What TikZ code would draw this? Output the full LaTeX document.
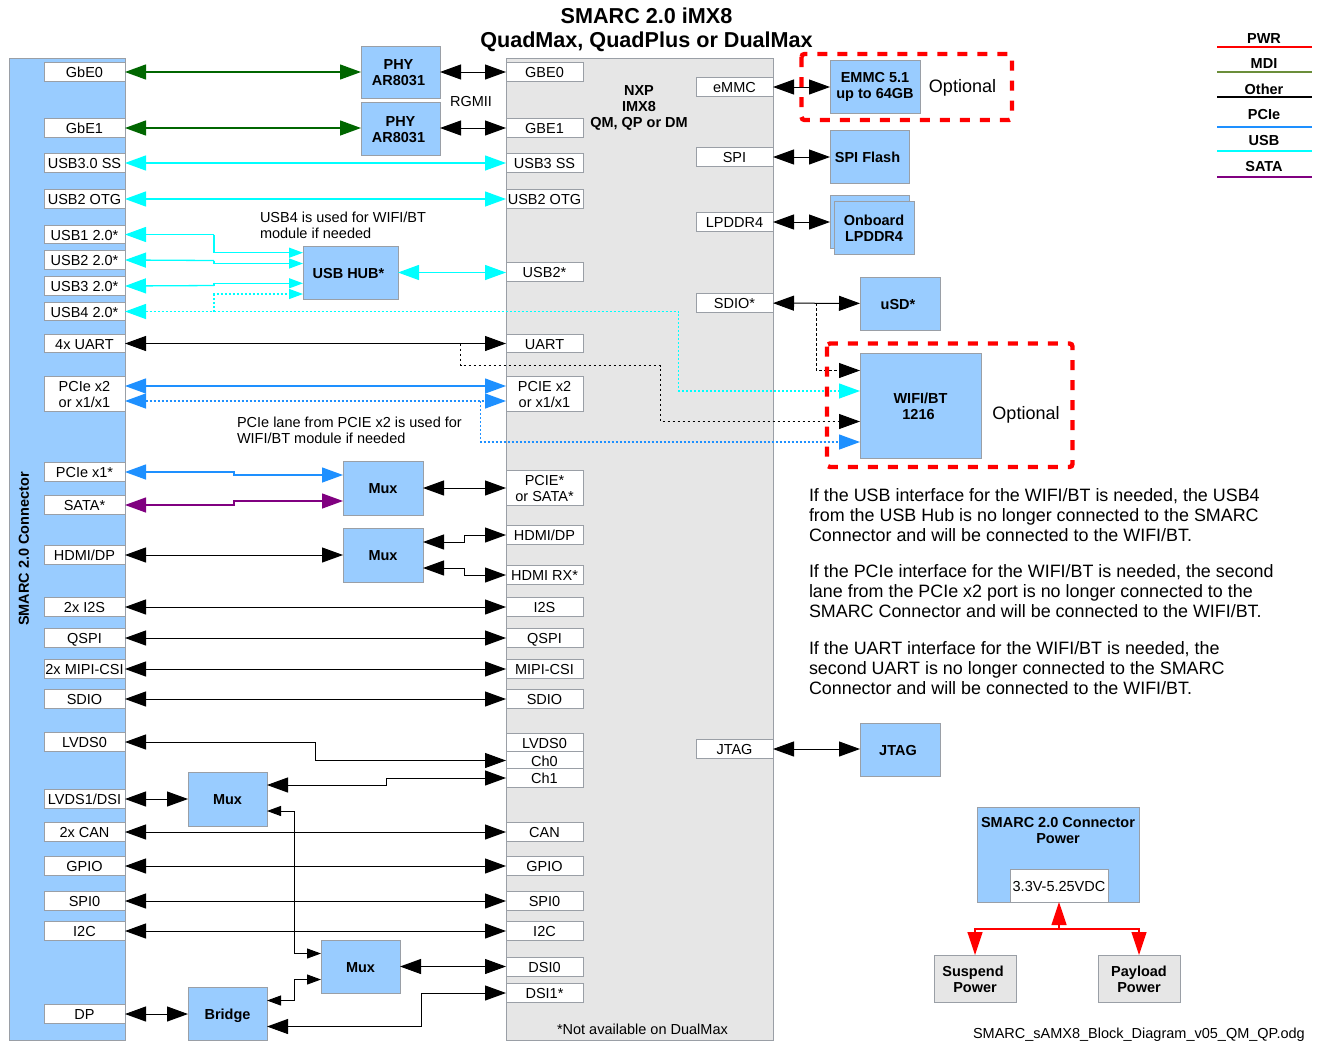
\documentclass[tikz,border=0pt]{standalone}
\usepackage{fontspec}
\setmainfont{Liberation Sans}
\usetikzlibrary{arrows.meta,calc}
\definecolor{blk}{HTML}{99CCFF}
\definecolor{chip}{HTML}{E6E6E6}
\definecolor{edge}{HTML}{9A9FA6}
\definecolor{mdi}{HTML}{006600}
\definecolor{mdil}{HTML}{6B8E3A}
\definecolor{pcie}{HTML}{1E90FF}
\definecolor{usbc}{HTML}{00FFFF}
\definecolor{sata}{HTML}{800080}
\newcommand\sr{\rule[-3.2pt]{0pt}{18.2pt}}
\newcommand\mr{\rule{0pt}{11.5pt}}
\newcommand\rs{\hspace*{4pt}}
\newcommand\bx[7][]{\pgfmathsetmacro\cxx{(#3+#5)/2}\pgfmathsetmacro\cyy{(#4+#6)/2}\pgfmathsetmacro\ww{#5-#3}\pgfmathsetmacro\hh{#6-#4}\node[#1,minimum width=\ww pt,minimum height=\hh pt] (#2) at (\cxx,\cyy) {#7};}
\newcommand\lft[3]{\node[lab,minimum width=81pt,minimum height=18pt] (#1) at (84.5,#2) {\sr #3};}
\newcommand\rgt[3]{\node[lab,minimum width=77pt,minimum height=18pt] (#1) at (544.5,#2) {\sr #3};}
\newcommand\ext[3]{\node[lab,minimum width=77pt,minimum height=18pt] (#1) at (734.5,#2) {\sr #3};}
\tikzset{
  base/.style={draw=edge,line width=1pt,inner sep=0pt,outer sep=0pt,align=center,font=\fontsize{14.5}{16}\selectfont},
  lab/.style={base,fill=white},
  block/.style={base,fill=blk,font=\fontsize{14.5}{16}\selectfont\bfseries},
  gblock/.style={base,fill=chip,font=\fontsize{14.5}{16}\selectfont\bfseries},
  txt/.style={inner sep=0pt,outer sep=0pt,font=\fontsize{14.5}{16}\selectfont},
  btxt/.style={inner sep=0pt,outer sep=0pt,align=center,font=\fontsize{14.5}{16}\selectfont\bfseries},
  para/.style={inner sep=0pt,outer sep=0pt,anchor=north west,align=left,font=\fontsize{17.9}{20}\selectfont},
  opt/.style={inner sep=0pt,outer sep=0pt,font=\fontsize{18}{20}\selectfont},
  wire/.style={line width=1pt,>={Triangle[length=21pt,width=15pt]}},
  cwire/.style={line width=1.3pt,>={Triangle[length=21pt,width=15pt]}},
  sw/.style={line width=1pt,>={Triangle[length=14pt,width=10pt]}},
  csw/.style={line width=1.3pt,>={Triangle[length=14pt,width=10pt]}},
  dash1/.style={dash pattern=on 2.5pt off 2.5pt},
  dot1/.style={dash pattern=on 2pt off 2pt},
  pwire/.style={line width=1.3pt,red,>={Triangle[length=23pt,width=15pt]}},
  redbox/.style={draw=red,line width=4.4pt,dash pattern=on 10pt off 10pt,rounded corners=3pt},
  leg/.style={line width=2.6pt}
}
\begin{document}
\begin{tikzpicture}[x=1pt,y=-1pt]
\useasboundingbox (0,0) rectangle (1327,1042);
% main bodies
\bx[base,fill=blk]{conn}{9}{58}{125}{1040}{}
\bx[base,fill=chip]{soc}{506}{58}{773}{1040}{}
\node[btxt,rotate=90] (conntxt) at (24,549) {SMARC 2.0 Connector};
\node[btxt] (soctxt) at (639,108) {NXP\\IMX8\\QM, QP or DM};
\node[inner sep=0pt,align=center,font=\fontsize{21.6}{23.5}\selectfont\bfseries] (title) at (646.5,30) {SMARC 2.0 iMX8\\QuadMax, QuadPlus or DualMax};
% left labels
\lft{lgbe0}{72}{GbE0}
\lft{lgbe1}{128}{GbE1}
\lft{lss}{163}{USB3.0 SS}
\lft{lotg}{199}{USB2 OTG}
\lft{lu1}{234.5}{USB1 2.0*}
\lft{lu2}{260}{USB2 2.0*}
\lft{lu3}{286}{USB3 2.0*}
\lft{lu4}{311.5}{USB4 2.0*}
\lft{luart}{343.5}{4x UART}
\node[lab,minimum width=81pt,minimum height=35pt] (lpcie) at (84.5,393.5) {\mr PCIe x2\\or x1/x1};
\lft{lx1}{472}{PCIe x1*}
\lft{lsata}{505}{SATA*}
\lft{lhdmi}{555}{HDMI/DP}
\lft{li2s}{607}{2x I2S}
\lft{lqspi}{638}{QSPI}
\lft{lmipi}{669}{2x MIPI-CSI}
\lft{lsdio}{699}{SDIO}
\lft{llvds}{742}{LVDS0}
\lft{llvds1}{799}{LVDS1/DSI}
\lft{lcan}{832}{2x CAN}
\lft{lgpio}{866}{GPIO}
\lft{lspi}{901}{SPI0}
\lft{li2c}{931}{I2C}
\lft{ldp}{1014}{DP}
% right labels
\rgt{rgbe0}{72}{GBE0}
\rgt{rgbe1}{128}{GBE1}
\rgt{rss}{163}{USB3 SS}
\rgt{rotg}{199}{USB2 OTG}
\rgt{rusb}{272}{USB2*}
\rgt{ruart}{343.5}{UART}
\node[lab,minimum width=77pt,minimum height=35pt] (rpcie) at (544.5,393.5) {\mr PCIE x2\\or x1/x1};
\node[lab,minimum width=77pt,minimum height=35pt] (rmux) at (544.5,488) {\mr PCIE*\\or SATA*};
\rgt{rhdmi}{535}{HDMI/DP}
\rgt{rrx}{575}{HDMI RX*}
\rgt{ri2s}{607}{I2S}
\rgt{rqspi}{638}{QSPI}
\rgt{rmipi}{669}{MIPI-CSI}
\rgt{rsdio}{699}{SDIO}
\rgt{rlvds}{743}{LVDS0}
\rgt{rch0}{760.5}{Ch0}
\rgt{rch1}{778}{Ch1}
\rgt{rcan}{832}{CAN}
\rgt{rgpio}{866}{GPIO}
\rgt{rspi}{901}{SPI0}
\rgt{ri2c}{931}{I2C}
\rgt{rdsi0}{967}{DSI0}
\rgt{rdsi1}{993}{DSI1*}
% soc external-side labels
\ext{xemmc}{87}{eMMC}
\ext{xspi}{157}{SPI}
\ext{xddr}{222}{LPDDR4}
\ext{xsdio}{303}{SDIO*}
\ext{xjtag}{749}{JTAG}
% blocks
\bx[block]{phy0}{361}{46}{440}{98}{\mr PHY\rs\\AR8031\rs}
\bx[block]{phy1}{361}{102}{440}{155}{\mr PHY\\AR8031\rs}
\bx[block]{hub}{303}{246}{398}{299}{\sr USB HUB*\rs}
\bx[block]{mux1}{343}{461}{423}{515}{\sr Mux}
\bx[block]{mux2}{343}{528}{423}{582}{\sr Mux}
\bx[block]{mux3}{188}{772}{267}{826}{\sr Mux}
\bx[block]{mux4}{321}{940}{400}{993}{\sr Mux}
\bx[block]{bridge}{188}{987}{267}{1040}{\sr Bridge}
\bx[block]{emmc}{830}{60}{920}{113}{\mr EMMC 5.1\\up to 64GB}
\bx[block]{flash}{830}{130}{909}{183}{\sr SPI Flash\rs}
\bx[block]{ddrb}{830}{195}{909}{248}{}
\bx[block]{ddr}{834}{201}{914}{254}{\mr Onboard\\LPDDR4}
\bx[block]{usd}{860}{277}{940}{330}{\sr uSD*\rs}
\bx[block]{wifi}{860}{353}{981}{458}{\mr WIFI/BT\\1216\rs}
\bx[block]{jtag}{860}{723}{940}{776}{\sr JTAG\rs}
\bx[block]{pwr}{977}{807}{1139}{902}{}
\node[btxt] (pwrtxt) at (1058,830.5) {SMARC 2.0 Connector\\Power};
\bx[lab]{v33}{1010}{869}{1108}{902}{\sr 3.3V-5.25VDC}
\bx[gblock]{susp}{934}{955}{1016}{1002}{\mr Suspend\rs\\Power}
\bx[gblock]{payl}{1098}{955}{1180}{1002}{\mr Payload\\Power}
% connectors: MDI
\draw[cwire,mdi,<->] (lgbe0) -- (phy0);
\draw[cwire,mdi,<->] (lgbe1) -- (lgbe1 -| phy1.west);
\draw[wire,<->] (phy0.east |- rgbe0) -- (rgbe0);
\draw[wire,<->] (phy1.east |- rgbe1) -- (rgbe1);
% USB
\draw[cwire,usbc,<->] (lss) -- (rss);
\draw[cwire,usbc,<->] (lotg) -- (rotg);
\draw[csw,usbc,->] (214,234.5) |- ($(hub.west)+(0,-19.8)$);
\draw[cwire,usbc,<-] (lu1.east) -- (214,234.5);
\draw[csw,usbc,->] (214,260.5) |- ($(hub.west)+(0,-9)$);
\draw[cwire,usbc,<-] (lu2.east) -- (214,260.5);
\draw[csw,usbc,->] (214,285.5) |- ($(hub.west)+(0,10.8)$);
\draw[cwire,usbc,<-] (lu3.east) -- (214,285.5);
\draw[csw,usbc,dot1,->] (214,311.5) |- ($(hub.west)+(0,21.5)$);
\draw[cwire,usbc,<->] (hub) -- (hub -| rusb.west);
\draw[cwire,usbc,dot1,<->] (lu4.east) -- (678.7,311.5) -- (678.7,391) -- ($(wifi.west)+(0,-14.5)$);
% UART and others
\draw[wire,<->] (luart) -- (ruart);
\draw[wire,dash1,->] (460.5,343.5) -- (460.5,365.5) -- (660.5,365.5) -- (660.5,421.5) -- ($(wifi.west)+(0,16)$);
% PCIe
\draw[cwire,pcie,<->] ($(lpcie.east)+(0,-7.5)$) -- ($(rpcie.west)+(0,-7.5)$);
\draw[cwire,pcie,dot1,<->] ($(lpcie.east)+(0,7.5)$) -- ($(rpcie.west)+(0,7.5)$);
\draw[cwire,pcie,dot1,->] (480.7,401) -- (480.7,442) -- ($(wifi.west)+(0,36.5)$);
\draw[cwire,pcie,<->] (lx1.east) -- (234,472) -- (234,475) -- ($(mux1.west)+(0,-13)$);
\draw[cwire,sata,<->] (lsata.east) -- (234,505) -- (234,501) -- ($(mux1.west)+(0,13)$);
\draw[wire,<->] (mux1.east) -- (rmux.west);
\draw[wire,<->] (lhdmi) -- (mux2);
\draw[wire,<->] ($(mux2.east)+(0,-13)$) -- (464.6,542) -- (464.6,535) -- (rhdmi.west);
\draw[wire,<->] ($(mux2.east)+(0,13)$) -- (464.6,568) -- (464.6,575) -- (rrx.west);
\draw[wire,<->] (li2s) -- (ri2s);
\draw[wire,<->] (lqspi) -- (rqspi);
\draw[wire,<->] (lmipi) -- (rmipi);
\draw[wire,<->] (lsdio) -- (rsdio);
\draw[wire,<->] (llvds.east) -- (315.3,742) -- (315.3,760.5) -- (rch0.west);
\draw[wire,<->] ($(mux3.east)+(0,-14)$) -- (386.5,785) -- (386.5,778) -- (rch1.west);
\draw[wire,<->] (llvds1.east) -- (llvds1 -| mux3.west);
\draw[wire,<->] (lcan) -- (rcan);
\draw[wire,<->] (lgpio) -- (rgpio);
\draw[wire,<->] (lspi) -- (rspi);
\draw[wire,<->] (li2c) -- (ri2c);
\draw[sw,<->] ($(mux3.east)+(0,12)$) -- (294,811) -- (294,953.5) -- ($(mux4.west)+(0,-13)$);
\draw[sw,<->] ($(bridge.east)+(0,-13)$) -- (294,1000.5) -- (294,979.5) -- ($(mux4.west)+(0,13)$);
\draw[wire,<->] (mux4.east) -- (mux4.east -| rdsi0.west);
\draw[wire,<->] ($(bridge.east)+(0,13)$) -- (421,1026.5) -- (421,993) -- (rdsi1.west);
\draw[wire,<->] (ldp) -- (ldp -| bridge.west);
% right side
\draw[wire,<->] (xemmc) -- (xemmc -| emmc.west);
\draw[wire,<->] (xspi) -- (xspi -| flash.west);
\draw[wire,<->] (xddr) -- (xddr -| ddrb.west);
\draw[wire,<->] (xsdio) -- (usd);
\draw[wire,dash1,->] (816.7,303) -- (816.7,370.5) -- ($(wifi.west)+(0,-35)$);
\draw[wire,<->] (xjtag) -- (xjtag -| jtag.west);
% power
\coordinate (pj) at (1059,929);
\draw[pwire,->] (pj) -- (pj |- v33.south);
\draw[pwire,->] (pj) -| (susp.north);
\draw[pwire,->] (pj) -| (payl.north -| pwr.east);
% red option frames
\draw[redbox] (801.5,54) rectangle (1012,120);
\draw[redbox] (827,343.5) rectangle (1072.5,467);
% free text
\node[opt] (opt1) at (962.5,88) {Optional};
\node[opt] (opt2) at (1026,415) {Optional};
\node[txt] (rgmii) at (471,102) {RGMII};
\node[txt,anchor=north west,align=left] (n1) at (260,211.5) {USB4 is used for WIFI/BT\\module if needed};
\node[txt,anchor=north west,align=left] (n2) at (237,417) {PCIe lane from PCIE x2 is used for\\WIFI/BT module if needed};
\node[txt,anchor=west] (n3) at (557,1029) {*Not available on DualMax};
\node[txt,anchor=west] (foot) at (973,1035) {SMARC\_sAMX8\_Block\_Diagram\_v05\_QM\_QP.odg};
\node[para] (p1) at (809,489) {If the USB interface for the WIFI/BT is needed, the USB4\\from the USB Hub is no longer connected to the SMARC\\Connector and will be connected to the WIFI/BT.};
\node[para] (p2) at (809,565) {If the PCIe interface for the WIFI/BT is needed, the second\\lane from the PCIe x2 port is no longer connected to the\\SMARC Connector and will be connected to the WIFI/BT.};
\node[para] (p3) at (809,642) {If the UART interface for the WIFI/BT is needed, the\\second UART is no longer connected to the SMARC\\Connector and will be connected to the WIFI/BT.};
% legend
\node[btxt] (tp) at (1264,39) {PWR};
\draw[leg,red] (1217,47) -- (1312,47);
\node[btxt] (tm) at (1264,64) {MDI};
\draw[leg,mdil] (1217,72) -- (1312,72);
\node[btxt] (to) at (1264,89) {Other};
\draw[leg,black] (1217,97) -- (1312,97);
\node[btxt] (tc) at (1264,115) {PCIe};
\draw[leg,pcie] (1217,127) -- (1312,127);
\node[btxt] (tu) at (1264,141) {USB};
\draw[leg,usbc] (1217,151) -- (1312,151);
\node[btxt] (ts) at (1264,167) {SATA};
\draw[leg,sata] (1217,177) -- (1312,177);
\end{tikzpicture}
\end{document}
